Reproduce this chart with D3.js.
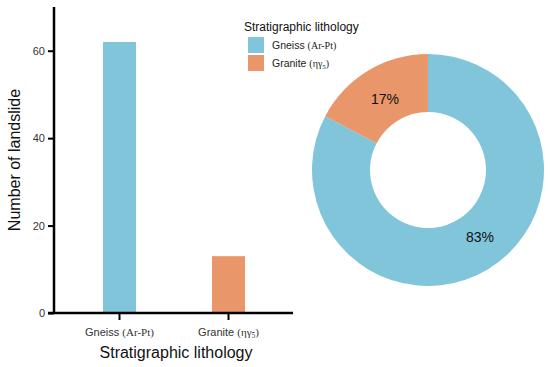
<!DOCTYPE html>
<html>
<head>
<meta charset="utf-8">
<script src="https://cdn.jsdelivr.net/npm/d3@7"></script>
<style>
  body { margin: 0; background: #fff; }
  svg { font-family: Arial, "Liberation Sans", sans-serif; }
</style>
</head>
<body>
<svg id="chart" width="550" height="367"></svg>
<script>
const categories = ['Gneiss', 'Granite'];
const codes = ['Ar-Pt', 'ηγ'];
const counts = [62, 13];
const yTicks = [0, 20, 40, 60];
const colors = ['#80c5da', '#e8966a'];

const svg = d3.select('#chart');

const x = d3.scaleBand().domain(categories).range([27, 321]).padding(0.697);
const y = d3.scaleLinear().domain([0, 70]).range([313, 7]);

// bars
svg.selectAll('rect.bar')
  .data(categories)
  .enter()
  .append('rect')
  .classed('bar', true)
  .attr('x', (d) => x(d))
  .attr('width', x.bandwidth())
  .attr('y', (d, i) => y(counts[i]))
  .attr('height', (d, i) => y(0) - y(counts[i]))
  .attr('fill', (d, i) => colors[i]);

// y axis
const yAxis = svg.append('g')
  .attr('transform', 'translate(54,0)')
  .call(d3.axisLeft(y).tickValues(yTicks).tickSize(6).tickSizeOuter(0));
yAxis.select('.domain').attr('stroke', '#000').attr('stroke-width', 2.5).attr('d', `M0,${y(70)}V${y(0)}`);
yAxis.selectAll('.tick line').attr('stroke', '#000').attr('stroke-width', 2);
yAxis.selectAll('.tick text').attr('font-size', 11).attr('fill', '#333').attr('font-family', 'Arial, sans-serif');

// x axis
const xAxis = svg.append('g')
  .attr('transform', `translate(0,${y(0)})`)
  .call(d3.axisBottom(x).tickSize(7).tickSizeOuter(0).tickFormat(''));
xAxis.select('.domain').attr('stroke', '#000').attr('stroke-width', 2.5).attr('d', 'M48,0H293');
xAxis.selectAll('.tick line').attr('stroke', '#000').attr('stroke-width', 2);

// category labels with serif codes
categories.forEach((c, i) => {
  const t = svg.append('text')
    .attr('x', x(c) + x.bandwidth() / 2)
    .attr('y', 336)
    .attr('text-anchor', 'middle')
    .attr('font-size', 11)
    .attr('fill', '#333');
  t.append('tspan').text(c + ' ');
  const s = t.append('tspan').attr('font-family', '"Liberation Serif", serif').attr('font-size', 11);
  if (i === 0) {
    s.text('(Ar-Pt)');
  } else {
    s.text('(' + codes[i]);
    s.append('tspan').attr('font-size', 7.5).attr('dy', 2).text('5');
    s.append('tspan').attr('dy', -2).text(')');
  }
});

svg.append('text')
  .attr('x', 176).attr('y', 358)
  .attr('text-anchor', 'middle')
  .attr('font-size', 16)
  .attr('fill', '#111')
  .text('Stratigraphic lithology');

svg.append('text')
  .attr('transform', 'translate(20,160) rotate(-90)')
  .attr('text-anchor', 'middle')
  .attr('font-size', 16)
  .attr('fill', '#111')
  .text('Number of landslide');

// legend
const legend = svg.append('g');
legend.append('text')
  .attr('x', 244).attr('y', 31)
  .attr('font-size', 12)
  .attr('fill', '#111')
  .text('Stratigraphic lithology');

categories.forEach((c, i) => {
  legend.append('rect')
    .attr('x', 248).attr('y', 37 + i * 18)
    .attr('width', 16).attr('height', 16)
    .attr('fill', colors[i]);
  const t = legend.append('text')
    .attr('x', 272).attr('y', 49 + i * 18)
    .attr('font-size', 10.5)
    .attr('fill', '#222');
  t.append('tspan').text(c + ' ');
  const s = t.append('tspan').attr('font-family', '"Liberation Serif", serif').attr('font-size', 10);
  if (i === 0) {
    s.text('(Ar-Pt)');
  } else {
    s.text('(' + codes[i]);
    s.append('tspan').attr('font-size', 7).attr('dy', 2).text('5');
    s.append('tspan').attr('dy', -2).text(')');
  }
});

// donut
const total = d3.sum(counts);
const pie = d3.pie().sort(null).value((d) => d);
const arcs = pie(counts);
const arc = d3.arc().innerRadius(58).outerRadius(116);
const labelArc = d3.arc().innerRadius(83).outerRadius(83);

const donut = svg.append('g').attr('transform', 'translate(428,170)');
donut.selectAll('path')
  .data(arcs)
  .enter()
  .append('path')
  .attr('d', arc)
  .attr('fill', (d, i) => colors[i]);

donut.selectAll('text')
  .data(arcs)
  .enter()
  .append('text')
  .attr('transform', (d, i) => {
    const [cx, cy] = labelArc.centroid(d);
    return i === 0 ? `translate(52,67)` : `translate(${cx},${cy})`;
  })
  .attr('text-anchor', 'middle')
  .attr('dy', '0.35em')
  .attr('font-size', 14)
  .attr('fill', '#111')
  .text((d) => Math.round((d.value / total) * 100) + '%');
</script>
</body>
</html>
